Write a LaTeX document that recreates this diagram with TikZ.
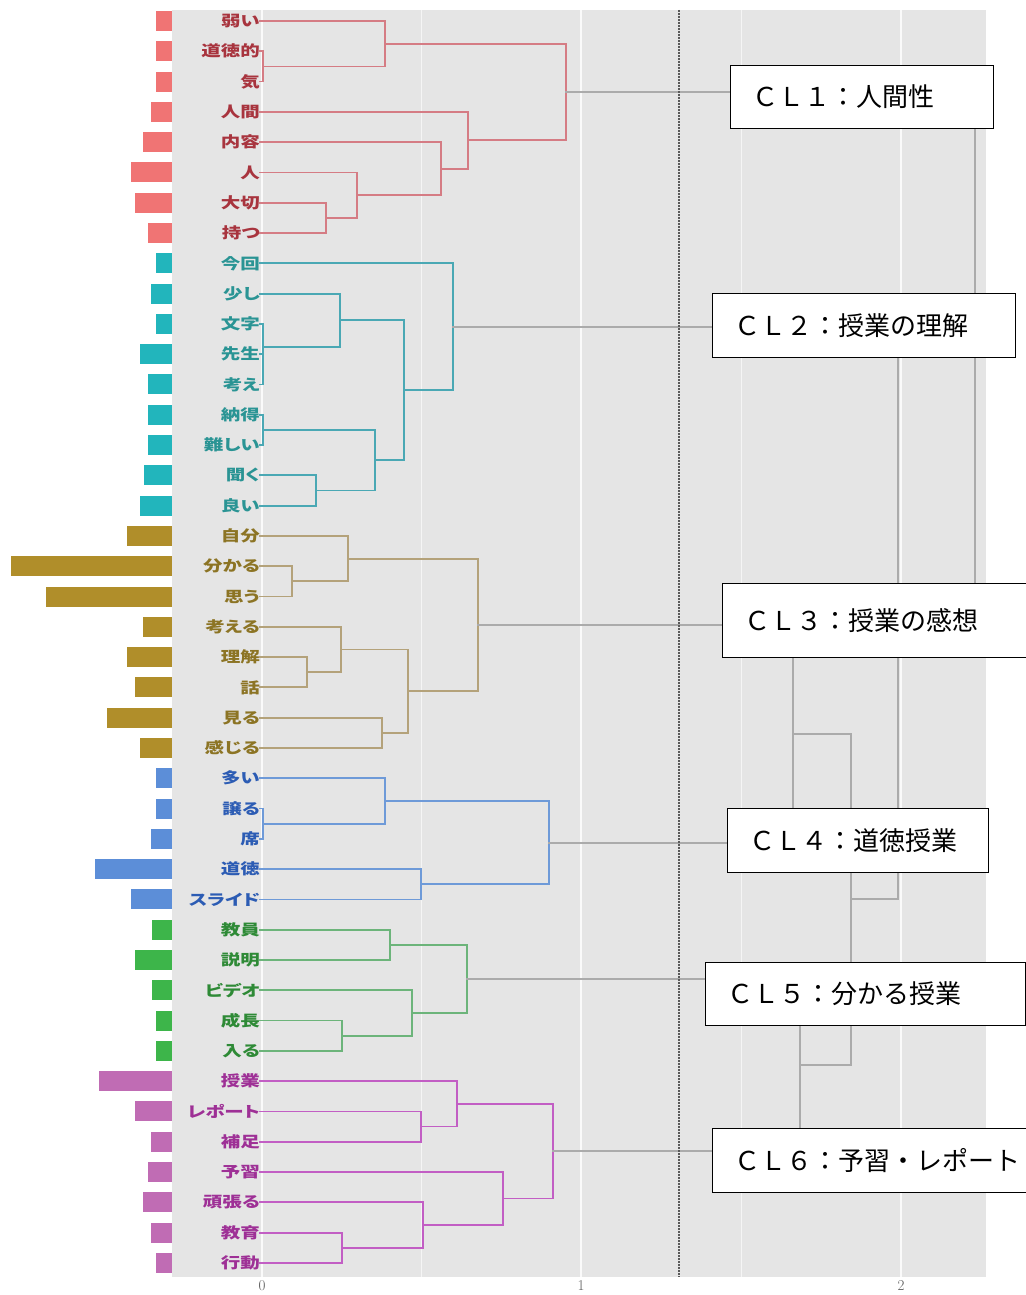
\documentclass[tikz,border=0pt]{standalone}
\usepackage{fontspec}
\usepackage{graphicx}
\usepackage{xcolor}
\newfontfamily\cjk{Noto Sans CJK JP}
\newfontfamily\cjklab[RawFeature=+palt]{Noto Sans CJK JP}
\usetikzlibrary{calc}
\usetikzlibrary{positioning}

\definecolor{barA}{HTML}{F07474}
\definecolor{barB}{HTML}{22B5BC}
\definecolor{barC}{HTML}{B08E2A}
\definecolor{barD}{HTML}{5C8ED8}
\definecolor{barE}{HTML}{3DB54A}
\definecolor{barF}{HTML}{C06CB4}
\definecolor{lnA}{HTML}{D57C84}
\definecolor{lnB}{HTML}{4AA8B4}
\definecolor{lnC}{HTML}{B4A27A}
\definecolor{lnD}{HTML}{6E9AD8}
\definecolor{lnE}{HTML}{6CB47A}
\definecolor{lnF}{HTML}{C25EC4}
\definecolor{labA}{HTML}{A8343E}
\definecolor{labB}{HTML}{2A9494}
\definecolor{labC}{HTML}{8C7424}
\definecolor{labD}{HTML}{2C5CB4}
\definecolor{labE}{HTML}{2E8A36}
\definecolor{labF}{HTML}{9E3096}
\definecolor{panel}{HTML}{E5E5E5}

% merge two branches at height #4: name, child, child, x, style
\newcommand{\dmerge}[5]{%
  \coordinate (#1tmp) at ($(#2)!0.5!(#3)$);
  \coordinate (#1) at (#1tmp -| #4,0);
  \draw[link, #5] (#2) -| (#1) |- (#3);
}

\begin{document}
\begin{tikzpicture}[x=1pt, y=-1pt, font=\cjk]
    \tikzstyle{leaf}=[anchor=east, inner sep=0pt, font=\cjklab\bfseries\fontsize{15}{15}\selectfont]
    \tikzstyle{link}=[line width=1.8pt, line cap=rect]
    \tikzstyle{upper}=[draw=black!33, line width=2pt]
    \tikzstyle{clbox}=[draw=black, fill=white, line width=1pt, anchor=north west, align=left, inner xsep=22pt, inner ysep=0pt, font=\cjk\fontsize{26}{30}\selectfont]
    \tikzstyle{tick}=[anchor=north, inner sep=0pt, text=black!65, font=\fontsize{15}{15}\selectfont]

    \useasboundingbox (0,0) rectangle (1025,1295);
    \fill[panel] (172,10) rectangle (986,1277);
    \foreach \gx in {262,581,901} \draw[white!80!panel, line width=1.3pt] (\gx,10) -- (\gx,1277);
    \foreach \gx in {421,741} \draw[white!60!panel, line width=0.8pt] (\gx,10) -- (\gx,1277);

    % leaves: bars and words
    \foreach \i/\w/\b/\c in {
      1/弱い/156/A, 2/道徳的/156/A, 3/気/156/A, 4/人間/151/A, 5/内容/143/A, 6/人/131/A, 7/大切/135/A, 8/持つ/148/A,
      9/今回/156/B, 10/少し/151/B, 11/文字/156/B, 12/先生/140/B, 13/考え/148/B, 14/納得/148/B, 15/難しい/148/B, 16/聞く/144/B, 17/良い/140/B,
      18/自分/127/C, 19/分かる/11/C, 20/思う/46/C, 21/考える/143/C, 22/理解/127/C, 23/話/135/C, 24/見る/107/C, 25/感じる/140/C,
      26/多い/156/D, 27/譲る/156/D, 28/席/151/D, 29/道徳/95/D, 30/スライド/131/D,
      31/教員/152/E, 32/説明/135/E, 33/ビデオ/152/E, 34/成長/156/E, 35/入る/156/E,
      36/授業/99/F, 37/レポート/135/F, 38/補足/151/F, 39/予習/148/F, 40/頑張る/143/F, 41/教育/151/F, 42/行動/156/F} {
      \pgfmathsetmacro{\yy}{21+(\i-1)*30.29}
      \fill[bar\c] (\b,\yy-10) rectangle (172,\yy+10);
      \node[leaf, text=lab\c] (l\i) at (260,\yy) {\scalebox{1.3}[1]{\w}};
    }

    % CL1
    \dmerge{rd1}{l2}{l3}{263}{lnA}
    \dmerge{rd2}{l1}{rd1}{385}{lnA}
    \dmerge{rd3}{l7}{l8}{326}{lnA}
    \dmerge{rd4}{l6}{rd3}{357}{lnA}
    \dmerge{rd5}{l5}{rd4}{441}{lnA}
    \dmerge{rd6}{l4}{rd5}{468}{lnA}
    \dmerge{topA}{rd2}{rd6}{566}{lnA}
    % CL2
    \dmerge{tl1}{l12}{l13}{263}{lnB}
    \dmerge{tl2}{l11}{tl1}{263}{lnB}
    \dmerge{tl3}{l10}{tl2}{340}{lnB}
    \dmerge{tl4}{l14}{l15}{263}{lnB}
    \dmerge{tl5}{l16}{l17}{316}{lnB}
    \dmerge{tl6}{tl4}{tl5}{375}{lnB}
    \dmerge{tl7}{tl3}{tl6}{404}{lnB}
    \dmerge{topB}{l9}{tl7}{453}{lnB}
    % CL3
    \dmerge{ol1}{l19}{l20}{292}{lnC}
    \dmerge{ol2}{l18}{ol1}{348}{lnC}
    \dmerge{ol3}{l22}{l23}{307}{lnC}
    \dmerge{ol4}{l21}{ol3}{341}{lnC}
    \dmerge{ol5}{l24}{l25}{382}{lnC}
    \dmerge{ol6}{ol4}{ol5}{408}{lnC}
    \dmerge{topC}{ol2}{ol6}{478}{lnC}
    % CL4
    \dmerge{bl1}{l27}{l28}{263}{lnD}
    \dmerge{bl2}{l26}{bl1}{385}{lnD}
    \dmerge{bl3}{l29}{l30}{421}{lnD}
    \dmerge{topD}{bl2}{bl3}{549}{lnD}
    % CL5
    \dmerge{gr1}{l31}{l32}{390}{lnE}
    \dmerge{gr2}{l34}{l35}{342}{lnE}
    \dmerge{gr3}{l33}{gr2}{412}{lnE}
    \dmerge{topE}{gr1}{gr3}{467}{lnE}
    % CL6
    \dmerge{pu1}{l37}{l38}{421}{lnF}
    \dmerge{pu2}{l36}{pu1}{457}{lnF}
    \dmerge{pu3}{l41}{l42}{342}{lnF}
    \dmerge{pu4}{l40}{pu3}{423}{lnF}
    \dmerge{pu5}{l39}{pu4}{503}{lnF}
    \dmerge{topF}{pu2}{pu5}{553}{lnF}
    % between clusters
    \dmerge{up1}{topC}{topD}{793}{upper}
    \dmerge{up2}{topE}{topF}{800}{upper}
    \dmerge{up3}{up1}{up2}{851}{upper}
    \dmerge{up4}{topB}{up3}{898}{upper}
    \dmerge{up5}{topA}{up4}{975}{upper}

    \draw[black!65, line width=1.6pt, dash pattern=on 2pt off 1pt] (679,10) -- (679,1277);

    \node[clbox, text width=219pt, minimum height=63pt] (cl1) at (730,65) {ＣＬ１：人間性};
    \node[clbox, text width=259pt, minimum height=64pt] (cl2) at (712,293) {ＣＬ２：授業の理解};
    \node[clbox, text width=280pt, minimum height=74pt] (cl3) at (722,583) {ＣＬ３：授業の感想};
    \node[clbox, text width=217pt, minimum height=64pt] (cl4) at (727,808) {ＣＬ４：道徳授業};
    \node[clbox, text width=276pt, minimum height=63pt] (cl5) at (705,962) {ＣＬ５：分かる授業};
    \node[clbox, text width=300pt, minimum height=64pt] (cl6) at (712,1128) {ＣＬ６：予習・レポート};

    \node[tick] (t0) at (262,1280) {0};
    \node[tick] (t1) at (581,1280) {1};
    \node[tick] (t2) at (901,1280) {2};
\end{tikzpicture}
\end{document}
